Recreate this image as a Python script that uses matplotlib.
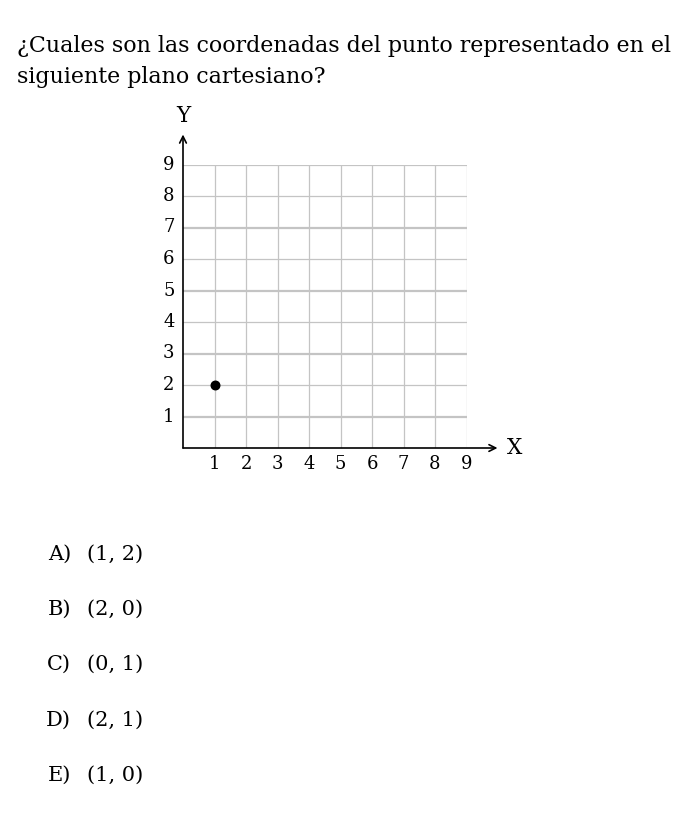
import matplotlib
matplotlib.use("Agg")
import matplotlib.pyplot as plt

# data
point_x = [1]
point_y = [2]
x_ticks = [1, 2, 3, 4, 5, 6, 7, 8, 9]
y_ticks = [1, 2, 3, 4, 5, 6, 7, 8, 9]
thick_rows = [1, 3, 5, 7, 9]
question = "¿Cuales son las coordenadas del punto representado en el\nsiguiente plano cartesiano?"
option_letters = ["A)", "B)", "C)", "D)", "E)"]
option_values = ["(1, 2)", "(2, 0)", "(0, 1)", "(2, 1)", "(1, 0)"]

W, H = 687, 827
plt.rcParams['font.family'] = ['DejaVu Serif']
fig = plt.figure(figsize=(W / 100, H / 100), dpi=100)

# plane: origin at (183, 448) px, 9 units = 283.5 px
x0, y0, size = 183, 448, 283.5
ax = fig.add_axes([x0 / W, (H - y0) / H, size / W, size / H])
ax.set_xlim(0, 9)
ax.set_ylim(0, 9)
for s in ax.spines.values():
    s.set_visible(False)
ax.set_xticks([])
ax.set_yticks([])

grid_c = "#c4c4c4"
for x in x_ticks:
    ax.plot([x, x], [0, 9], color=grid_c, lw=0.9, zorder=1)
for y in y_ticks:
    lw = 1.6 if y in thick_rows else 0.9
    ax.plot([0, 9], [y, y], color=grid_c, lw=lw, zorder=1)

# axes with open arrows
ax.annotate("", xy=(9 + 31 / 31.5, 0), xytext=(0, 0),
            arrowprops=dict(arrowstyle="->", lw=1.2, color="black",
                            shrinkA=0, shrinkB=0, mutation_scale=12),
            annotation_clip=False, zorder=3)
ax.annotate("", xy=(0, 9 + 30 / 31.5), xytext=(0, 0),
            arrowprops=dict(arrowstyle="->", lw=1.2, color="black",
                            shrinkA=0, shrinkB=0, mutation_scale=12),
            annotation_clip=False, zorder=3)

for x in x_ticks:
    ax.text(x, -0.5, str(x), ha="center", va="center", fontsize=13, clip_on=False)
for y in y_ticks:
    ax.text(-0.45, y, str(y), ha="center", va="center", fontsize=13, clip_on=False)
ax.text(0, 9 + 49 / 31.5, "Y", ha="center", va="center", fontsize=15.5, clip_on=False)
ax.text(9 + 48 / 31.5, 0, "X", ha="center", va="center", fontsize=15.5, clip_on=False)

ax.scatter(point_x, point_y, s=38, color="black", zorder=4, clip_on=False)

# question text
fig.text(17 / W, 1 - 35 / H, question, ha="left", va="top", fontsize=15.9,
         linespacing=1.55)

# options
for i, (letter, val) in enumerate(zip(option_letters, option_values)):
    yp = 1 - (554 + i * 55.3) / H
    fig.text(71 / W, yp, letter, ha="right", va="center", fontsize=15)
    fig.text(87 / W, yp, val, ha="left", va="center", fontsize=15)

fig.savefig("out.png", dpi=100, facecolor="white")
